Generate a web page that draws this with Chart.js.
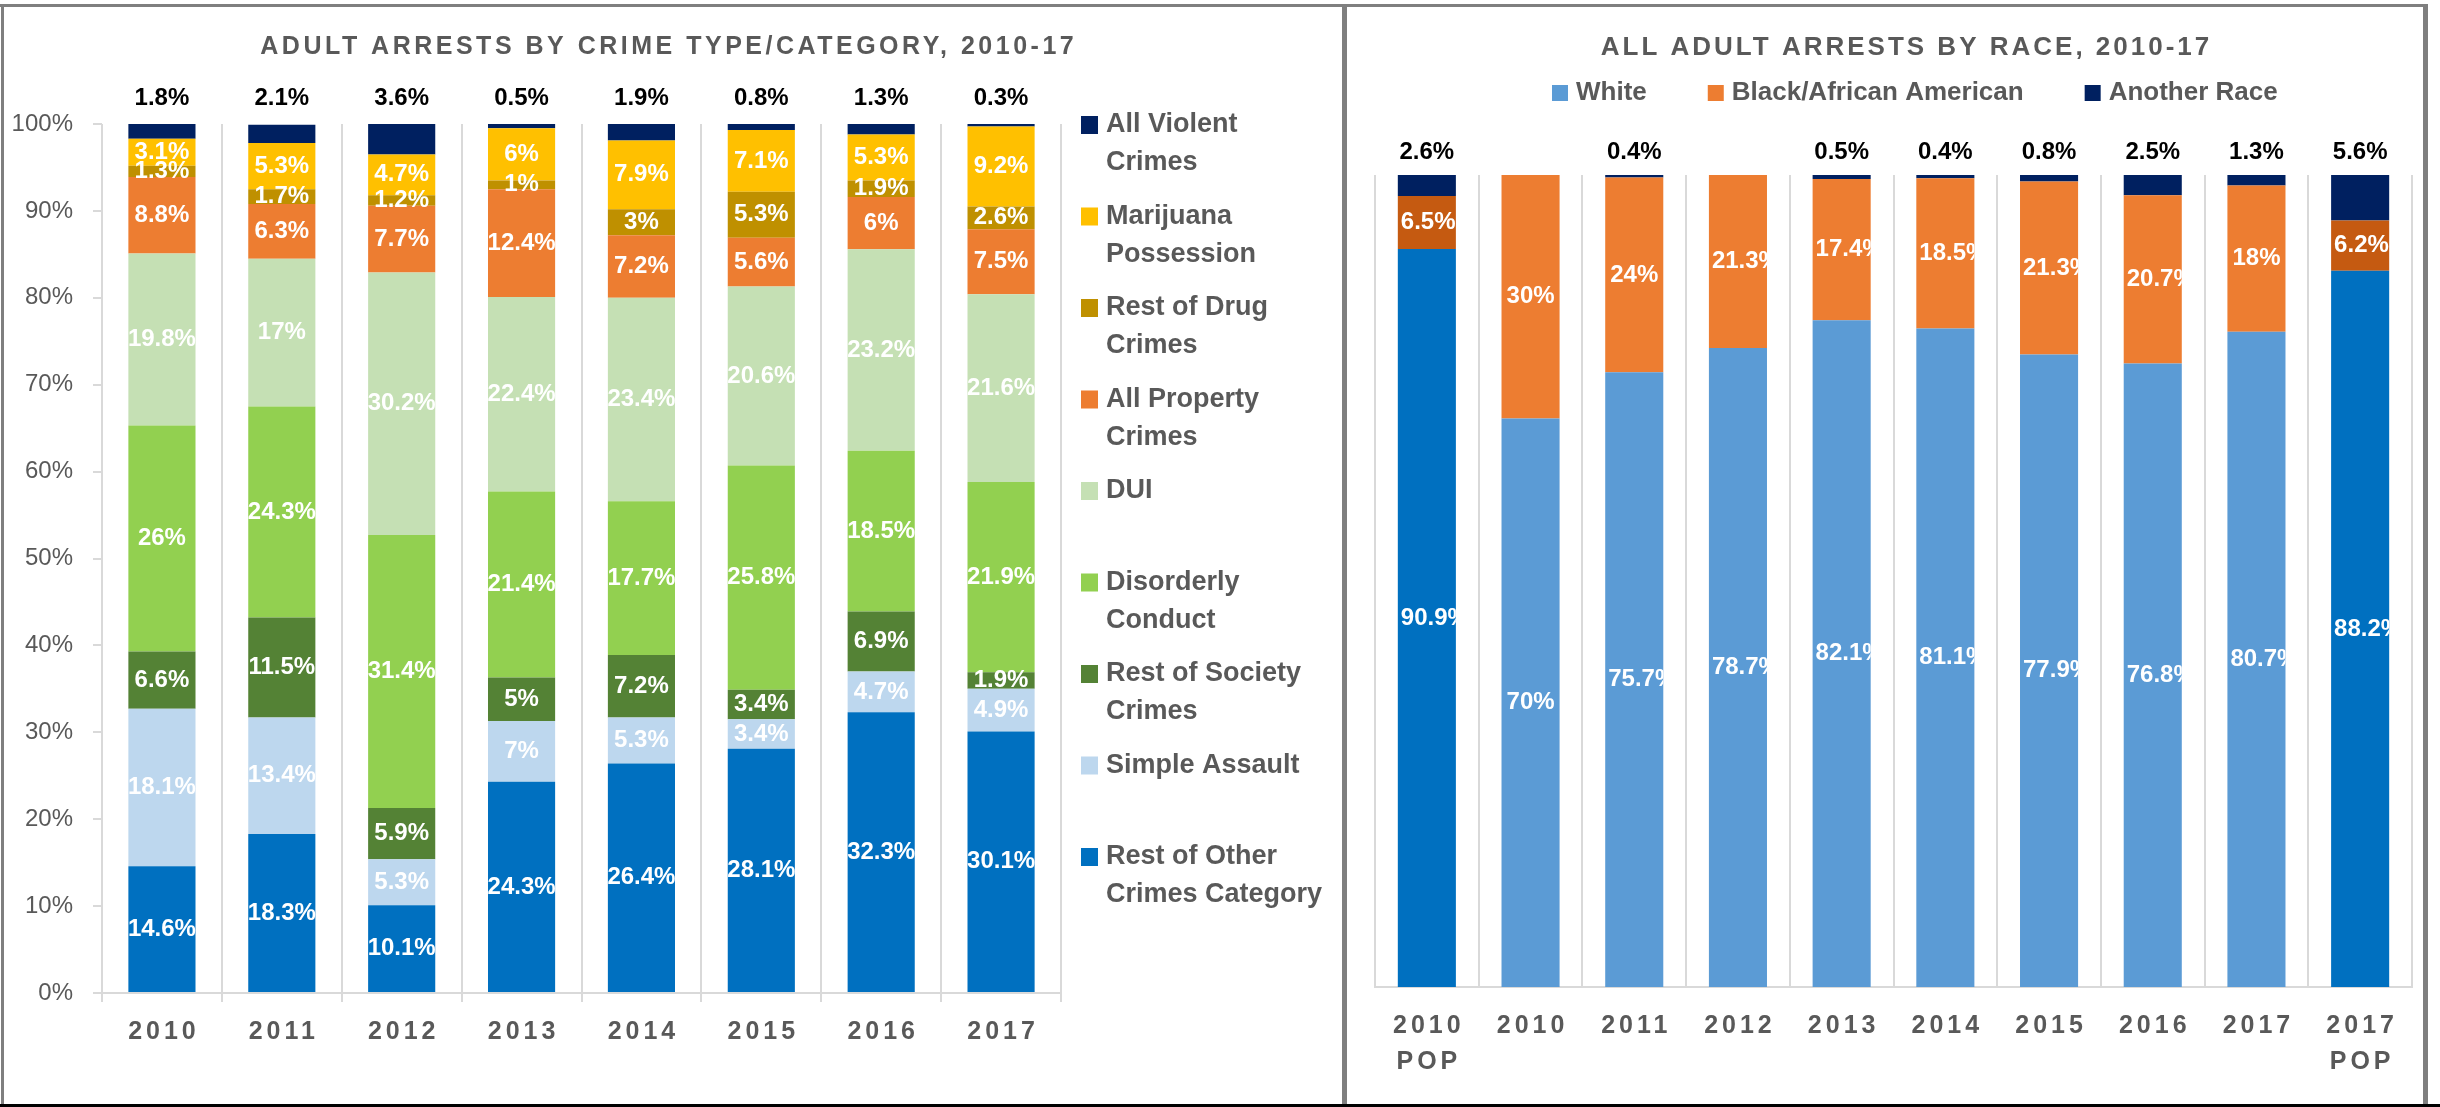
<!DOCTYPE html>
<html><head><meta charset="utf-8">
<script src="https://cdn.jsdelivr.net/npm/chart.js@4.4.0/dist/chart.umd.min.js"></script>
<style>
html,body{margin:0;padding:0;background:#fff;}
#wrap{position:relative;width:2440px;height:1107px;overflow:hidden;background:#fff;}
canvas{position:absolute;top:0;}
#cL{left:0;} #cR{left:1345px;}
.b{position:absolute;background:#7f7f7f;}
</style></head><body>
<div id="wrap">
<canvas id="cL" width="1345" height="1107"></canvas>
<canvas id="cR" width="1095" height="1107"></canvas>
<div class="b" style="left:0;top:4px;width:2428px;height:3px"></div>
<div class="b" style="left:1px;top:4px;width:3px;height:1103px"></div>
<div class="b" style="left:1342px;top:4px;width:5px;height:1103px"></div>
<div class="b" style="left:2423px;top:4px;width:5px;height:1103px"></div>
<div class="b" style="left:0;top:1104px;width:2440px;height:3px;background:#000"></div>
</div>
<script>
// ---------- DATA (left chart) ----------
const crimeTitle = 'ADULT ARRESTS BY CRIME TYPE/CATEGORY, 2010-17';
const years = ['2010','2011','2012','2013','2014','2015','2016','2017'];
const otherCrimes   = [14.6, 18.3, 10.1, 24.3, 26.4, 28.1, 32.3, 30.1];
const simpleAssault = [18.1, 13.4, 5.3, 7, 5.3, 3.4, 4.7, 4.9];
const societyCrimes = [6.6, 11.5, 5.9, 5, 7.2, 3.4, 6.9, 1.9];
const disorderly    = [26, 24.3, 31.4, 21.4, 17.7, 25.8, 18.5, 21.9];
const dui           = [19.8, 17, 30.2, 22.4, 23.4, 20.6, 23.2, 21.6];
const property      = [8.8, 6.3, 7.7, 12.4, 7.2, 5.6, 6, 7.5];
const drugCrimes    = [1.3, 1.7, 1.2, 1, 3, 5.3, 1.9, 2.6];
const marijuana     = [3.1, 5.3, 4.7, 6, 7.9, 7.1, 5.3, 9.2];
const violent       = [1.8, 2.1, 3.6, 0.5, 1.9, 0.8, 1.3, 0.3];
const crimeNames = ['Rest of Other Crimes Category','Simple Assault','Rest of Society Crimes','Disorderly Conduct','DUI','All Property Crimes','Rest of Drug Crimes','Marijuana Possession','All Violent Crimes'];
const crimeLegendLines = [['Rest of Other','Crimes Category'],['Simple Assault'],['Rest of Society','Crimes'],['Disorderly','Conduct'],['DUI'],['All Property','Crimes'],['Rest of Drug','Crimes'],['Marijuana','Possession'],['All Violent','Crimes']];
const yTickValues = [0,10,20,30,40,50,60,70,80,90,100];

// ---------- DATA (right chart) ----------
const raceTitle = 'ALL ADULT ARRESTS BY RACE, 2010-17';
const raceCats = [['2010','POP'],['2010'],['2011'],['2012'],['2013'],['2014'],['2015'],['2016'],['2017'],['2017','POP']];
const whitePct   = [90.9, 70, 75.7, 78.7, 82.1, 81.1, 77.9, 76.8, 80.7, 88.2];
const blackPct   = [6.5, 30, 24, 21.3, 17.4, 18.5, 21.3, 20.7, 18, 6.2];
const anotherPct = [2.6, null, 0.4, null, 0.5, 0.4, 0.8, 2.5, 1.3, 5.6];
const raceNames = ['White','Black/African American','Another Race'];

// ---------- STYLE ----------
const FONT = '"Liberation Sans", Arial, sans-serif';
const GRAY = '#595959';
const crimeColors = ['#0070C0','#BDD7EE','#548235','#92D050','#C5E0B4','#ED7D31','#BF9000','#FFC000','#002060'];
const raceColors = ['#5B9BD5','#ED7D31','#002060'];
const racePopColors = ['#0070C0','#C55A11','#002060'];
Chart.defaults.font.family = FONT;

function drawSpaced(ctx, text, x, y, s) {
  ctx.letterSpacing = s + 'px';
  ctx.fillText(text, x + s / 2, y);
  ctx.letterSpacing = '0px';
}

// ---------- LEFT CHART ----------
const crimeSeries = [otherCrimes, simpleAssault, societyCrimes, disorderly, dui, property, drugCrimes, marijuana, violent];
const leftPlugin = {
  id: 'leftDecor',
  afterDraw(chart) {
    const ctx = chart.ctx, area = chart.chartArea, xs = chart.scales.x;
    ctx.save();
    ctx.textAlign = 'center'; ctx.textBaseline = 'middle';
    ctx.fillStyle = GRAY; ctx.font = 'bold 25px ' + FONT;
    drawSpaced(ctx, crimeTitle, 667, 47, 3.5);
    years.forEach((y, i) => drawSpaced(ctx, y, xs.getPixelForValue(i), area.bottom + 39, 4));
    const last = chart.data.datasets.length - 1;
    chart.data.datasets.forEach((ds, di) => {
      const meta = chart.getDatasetMeta(di);
      meta.data.forEach((bar, i) => {
        const v = ds.data[i]; if (v == null) return;
        ctx.font = 'bold 24px ' + FONT;
        if (di === last) { ctx.fillStyle = '#000'; ctx.fillText(v + '%', bar.x, area.top - 26); }
        else { ctx.fillStyle = '#fff'; ctx.fillText(v + '%', bar.x, (bar.y + bar.base) / 2); }
      });
    });
    // legend (top to bottom = reversed stack order)
    ctx.textAlign = 'left'; ctx.font = 'bold 27px ' + FONT;
    const lx = area.right + 20, y0 = area.top + 1, step = 91.5;
    for (let k = 0; k <= last; k++) {
      const di = last - k;
      const y = y0 + k * step;
      ctx.fillStyle = crimeColors[di];
      ctx.fillRect(lx, y - 9, 17, 18);
      ctx.fillStyle = GRAY;
      crimeLegendLines[di].forEach((ln, j) => ctx.fillText(ln, lx + 25, y + j * 38));
    }
    ctx.restore();
  }
};

new Chart(document.getElementById('cL'), {
  type: 'bar',
  data: {
    labels: years,
    datasets: crimeSeries.map((d, i) => ({ label: crimeNames[i], data: d, backgroundColor: crimeColors[i], borderWidth: 0, categoryPercentage: 1, barPercentage: 0.56 }))
  },
  options: {
    responsive: false, animation: false,
    layout: { padding: { left: 0, right: 284, top: 124, bottom: 0 } },
    plugins: { legend: { display: false }, title: { display: false }, tooltip: { enabled: false } },
    scales: {
      x: {
        stacked: true,
        grid: { display: true, offset: true, color: '#D9D9D9', lineWidth: 2, drawTicks: true, tickLength: 9 },
        border: { display: true, color: '#D9D9D9', width: 2 },
        ticks: { display: false },
        afterFit: s => { s.height = 114; }
      },
      y: {
        stacked: true, min: 0, max: 100,
        afterBuildTicks: s => { s.ticks = yTickValues.map(v => ({ value: v })); },
        grid: { display: true, drawOnChartArea: false, color: '#D9D9D9', lineWidth: 2, drawTicks: true, tickLength: 9 },
        border: { display: false },
        ticks: { color: GRAY, padding: 20, font: { size: 24, family: FONT }, callback: v => v + '%' },
        afterFit: s => { s.width = 102; }
      }
    }
  },
  plugins: [leftPlugin]
});

// ---------- RIGHT CHART ----------
const isPop = raceCats.map(c => c.includes('POP'));
const raceSeries = [whitePct, blackPct, anotherPct];
function clippedLabel(ctx, txt, bar, y) {
  const w = ctx.measureText(txt).width;
  const left = bar.x - bar.width / 2, right = bar.x + bar.width / 2;
  ctx.save();
  ctx.beginPath(); ctx.rect(left, y - 20, right - left, 40); ctx.clip();
  if (w > bar.width - 4) { ctx.textAlign = 'left'; ctx.fillText(txt, left + 3, y); }
  else { ctx.textAlign = 'center'; ctx.fillText(txt, bar.x, y); }
  ctx.restore();
}
const rightPlugin = {
  id: 'rightDecor',
  afterDraw(chart) {
    const ctx = chart.ctx, area = chart.chartArea, xs = chart.scales.x;
    ctx.save();
    ctx.textAlign = 'center'; ctx.textBaseline = 'middle';
    ctx.fillStyle = GRAY; ctx.font = 'bold 26px ' + FONT;
    drawSpaced(ctx, raceTitle, 560, 48, 3);
    ctx.font = 'bold 25px ' + FONT;
    raceCats.forEach((c, i) => c.forEach((ln, j) => drawSpaced(ctx, ln, xs.getPixelForValue(i), area.bottom + 39 + j * 36, 4)));
    const last = chart.data.datasets.length - 1;
    chart.data.datasets.forEach((ds, di) => {
      const meta = chart.getDatasetMeta(di);
      meta.data.forEach((bar, i) => {
        const v = ds.data[i]; if (v == null) return;
        ctx.font = 'bold 24px ' + FONT;
        if (di === last) { ctx.fillStyle = '#000'; ctx.textAlign = 'center'; ctx.fillText(v + '%', bar.x, area.top - 23); }
        else { ctx.fillStyle = '#fff'; clippedLabel(ctx, v + '%', bar, (bar.y + bar.base) / 2); }
      });
    });
    // legend
    ctx.textAlign = 'left'; ctx.font = 'bold 26px ' + FONT;
    let x = 207; const y = 93;
    raceNames.forEach((n, i) => {
      ctx.fillStyle = raceColors[i]; ctx.fillRect(x, y - 8, 16, 16);
      ctx.fillStyle = GRAY; ctx.fillText(n, x + 24, y);
      x += 24 + ctx.measureText(n).width + 61;
    });
    ctx.restore();
  }
};

new Chart(document.getElementById('cR'), {
  type: 'bar',
  data: {
    labels: raceCats,
    datasets: raceSeries.map((d, i) => ({
      label: raceNames[i], data: d,
      backgroundColor: isPop.map(p => p ? racePopColors[i] : raceColors[i]),
      borderWidth: 0, categoryPercentage: 1, barPercentage: 0.56
    }))
  },
  options: {
    responsive: false, animation: false,
    layout: { padding: { left: 30, right: 28, top: 175, bottom: 0 } },
    plugins: { legend: { display: false }, title: { display: false }, tooltip: { enabled: false } },
    scales: {
      x: {
        stacked: true,
        grid: { display: true, offset: true, color: '#D9D9D9', lineWidth: 2, drawTicks: false },
        border: { display: true, color: '#D9D9D9', width: 2 },
        ticks: { display: false },
        afterFit: s => { s.height = 120; }
      },
      y: { stacked: true, min: 0, max: 100, display: false }
    }
  },
  plugins: [rightPlugin]
});
</script>
</body></html>
